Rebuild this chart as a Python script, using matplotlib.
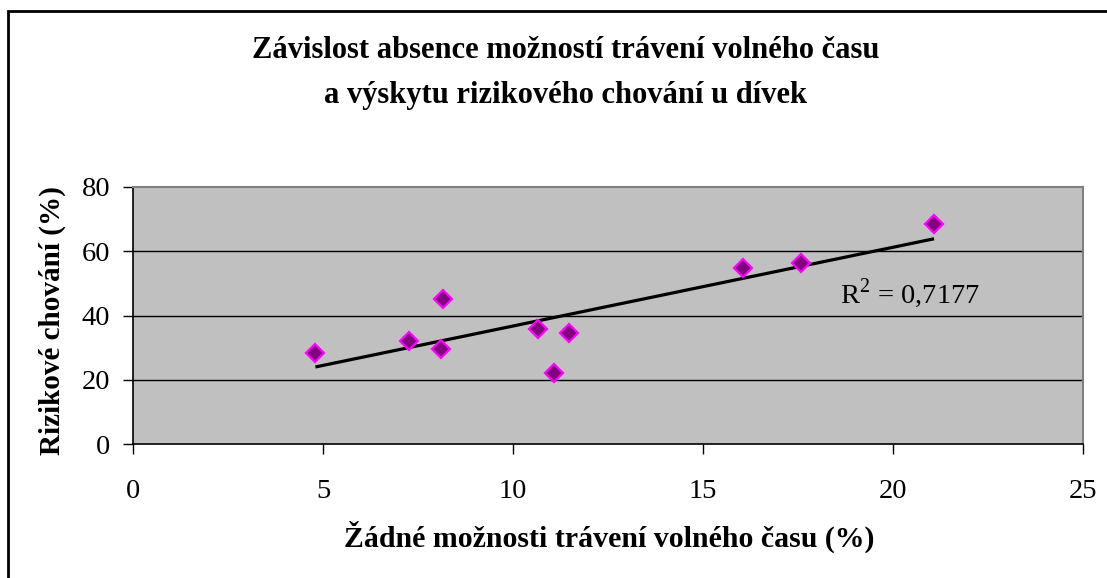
import matplotlib
matplotlib.use("Agg")
import matplotlib.pyplot as plt
import numpy as np
from matplotlib.patches import Rectangle

x_vals = [4.8, 7.27, 8.16, 8.1, 10.67, 11.48, 11.08, 16.05, 17.57, 21.08]
y_vals = [28.4, 32.2, 45.0, 29.6, 35.8, 34.7, 22.0, 54.8, 56.2, 68.4]
x_ticks = [0, 5, 10, 15, 20, 25]
y_ticks = [0, 20, 40, 60, 80]
title_lines = ["Závislost absence možností trávení volného času",
               "a výskytu rizikového chování u dívek"]
xlabel = "Žádné možnosti trávení volného času (%)"
ylabel = "Rizikové chování (%)"
r2_text = "R$^2$ = 0,7177"

plt.rcParams['font.family'] = ['Liberation Serif', 'DejaVu Serif']
plt.rcParams['mathtext.fontset'] = 'custom'
plt.rcParams['mathtext.rm'] = 'Liberation Serif'

W, H = 1107, 578
fig = plt.figure(figsize=(W/100, H/100), dpi=100)
fig.patch.set_facecolor('white')

# outer chart border
fig.patches.append(Rectangle((8/W, -0.1), 1.2, 1 - 11/H + 0.1, transform=fig.transFigure,
                             fill=False, edgecolor='black', linewidth=2))

ax = fig.add_axes([133/W, 1-444/H, (1083-133)/W, (444-187)/H])
ax.set_facecolor('#C0C0C0')
ax.set_xlim(0, 25)
ax.set_ylim(0, 80)
ax.set_xticks(x_ticks)
ax.set_yticks(y_ticks)
for s in ['top', 'right']:
    ax.spines[s].set_color('#808080')
    ax.spines[s].set_linewidth(1.5)
for s in ['left', 'bottom']:
    ax.spines[s].set_color('black')
    ax.spines[s].set_linewidth(1.2)
for yv in y_ticks[1:-1]:
    ax.axhline(yv, color='black', linewidth=1.0, zorder=1)

ax.tick_params(axis='both', direction='out', length=7.5, width=1, labelsize=20.5, colors='black')
ax.tick_params(axis='x', pad=18)
ax.tick_params(axis='y', pad=9)

xs = np.array(x_vals)
ys = np.array(y_vals)
k, q = np.polyfit(xs, ys, 1)
xl = np.array([xs.min(), xs.max()])
ax.plot(xl, k*xl + q, color='black', linewidth=2.3, solid_capstyle='butt', zorder=3)

ax.plot(xs, ys, linestyle='none', marker='D', markersize=9,
        markerfacecolor='#800080', markeredgecolor='#FF00FF', markeredgewidth=1.6, zorder=4)

ax.text(18.6, 44.0, r2_text, fontsize=20.5, ha='left', va='baseline')

fig.text(566/W, 1-51/H, title_lines[0], ha='center', va='center', fontsize=22, fontweight='bold')
fig.text(566/W, 1-96/H, title_lines[1], ha='center', va='center', fontsize=22, fontweight='bold')
fig.text(609/W, 1-537/H, xlabel, ha='center', va='center', fontsize=21.5, fontweight='bold')
fig.text(52/W, 1-321/H, ylabel, ha='center', va='center', fontsize=21, fontweight='bold',
         rotation=90)

fig.savefig('out.png', dpi=100)
